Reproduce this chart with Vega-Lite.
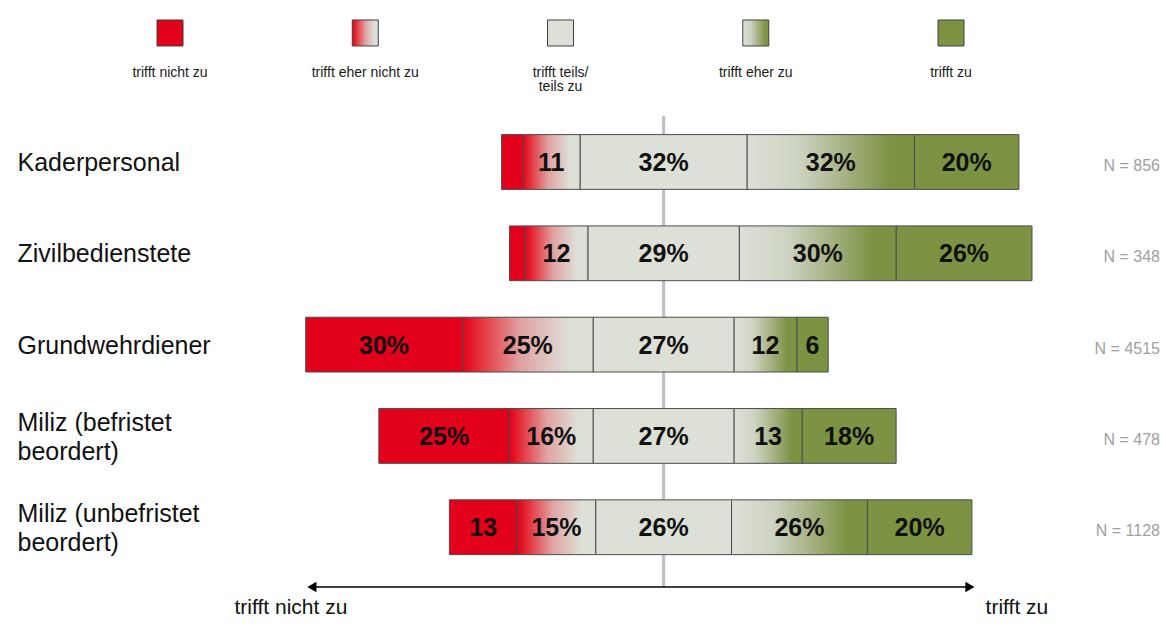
{
  "$schema": "https://vega.github.io/schema/vega-lite/v6.json",
  "padding": 0,
  "autosize": {"type": "pad"},
  "bounds": "flush",
  "spacing": 0,
  "background": "white",
  "config": {"view": {"stroke": null}, "font": "Liberation Sans"},
  "resolve": {"scale": {"x": "independent", "y": "independent", "color": "independent", "shape": "independent"}},
  "datasets": {
    "bars": [
      {"group": "Kaderpersonal", "cat": "trifft nicht zu", "order": 1, "value": 4, "label": ""},
      {"group": "Kaderpersonal", "cat": "trifft eher nicht zu", "order": 2, "value": 11, "label": "11"},
      {"group": "Kaderpersonal", "cat": "trifft teils/\nteils zu", "order": 3, "value": 32, "label": "32%"},
      {"group": "Kaderpersonal", "cat": "trifft eher zu", "order": 4, "value": 32, "label": "32%"},
      {"group": "Kaderpersonal", "cat": "trifft zu", "order": 5, "value": 20, "label": "20%"},
      {"group": "Zivilbedienstete", "cat": "trifft nicht zu", "order": 1, "value": 3, "label": ""},
      {"group": "Zivilbedienstete", "cat": "trifft eher nicht zu", "order": 2, "value": 12, "label": "12"},
      {"group": "Zivilbedienstete", "cat": "trifft teils/\nteils zu", "order": 3, "value": 29, "label": "29%"},
      {"group": "Zivilbedienstete", "cat": "trifft eher zu", "order": 4, "value": 30, "label": "30%"},
      {"group": "Zivilbedienstete", "cat": "trifft zu", "order": 5, "value": 26, "label": "26%"},
      {"group": "Grundwehrdiener", "cat": "trifft nicht zu", "order": 1, "value": 30, "label": "30%"},
      {"group": "Grundwehrdiener", "cat": "trifft eher nicht zu", "order": 2, "value": 25, "label": "25%"},
      {"group": "Grundwehrdiener", "cat": "trifft teils/\nteils zu", "order": 3, "value": 27, "label": "27%"},
      {"group": "Grundwehrdiener", "cat": "trifft eher zu", "order": 4, "value": 12, "label": "12"},
      {"group": "Grundwehrdiener", "cat": "trifft zu", "order": 5, "value": 6, "label": "6"},
      {"group": "Miliz (befristet\nbeordert)", "cat": "trifft nicht zu", "order": 1, "value": 25, "label": "25%"},
      {"group": "Miliz (befristet\nbeordert)", "cat": "trifft eher nicht zu", "order": 2, "value": 16, "label": "16%"},
      {"group": "Miliz (befristet\nbeordert)", "cat": "trifft teils/\nteils zu", "order": 3, "value": 27, "label": "27%"},
      {"group": "Miliz (befristet\nbeordert)", "cat": "trifft eher zu", "order": 4, "value": 13, "label": "13"},
      {"group": "Miliz (befristet\nbeordert)", "cat": "trifft zu", "order": 5, "value": 18, "label": "18%"},
      {"group": "Miliz (unbefristet\nbeordert)", "cat": "trifft nicht zu", "order": 1, "value": 13, "label": "13"},
      {"group": "Miliz (unbefristet\nbeordert)", "cat": "trifft eher nicht zu", "order": 2, "value": 15, "label": "15%"},
      {"group": "Miliz (unbefristet\nbeordert)", "cat": "trifft teils/\nteils zu", "order": 3, "value": 26, "label": "26%"},
      {"group": "Miliz (unbefristet\nbeordert)", "cat": "trifft eher zu", "order": 4, "value": 26, "label": "26%"},
      {"group": "Miliz (unbefristet\nbeordert)", "cat": "trifft zu", "order": 5, "value": 20, "label": "20%"}
    ],
    "counts": [
      {"group": "Kaderpersonal", "n": 856},
      {"group": "Zivilbedienstete", "n": 348},
      {"group": "Grundwehrdiener", "n": 4515},
      {"group": "Miliz (befristet\nbeordert)", "n": 478},
      {"group": "Miliz (unbefristet\nbeordert)", "n": 1128}
    ],
    "legend": [
      {"cat": "trifft nicht zu", "order": 1},
      {"cat": "trifft eher nicht zu", "order": 2},
      {"cat": "trifft teils/\nteils zu", "order": 3},
      {"cat": "trifft eher zu", "order": 4},
      {"cat": "trifft zu", "order": 5}
    ],
    "ends": [
      {"end": "trifft nicht zu"},
      {"end": "trifft zu"}
    ],
    "axisline": [
      {"from": "trifft nicht zu", "to": "trifft zu"}
    ]
  },
  "vconcat": [
    {
      "width": 1166,
      "height": 116,
      "data": {"name": "legend"},
      "layer": [
        {
          "transform": [{"filter": "datum.order == 1 || datum.order == 3 || datum.order == 5"}],
          "mark": {"type": "square", "size": 676, "stroke": "#404040", "strokeWidth": 1, "opacity": 1},
          "encoding": {
            "x": {"field": "cat", "type": "nominal", "sort": null, "axis": null,
                  "scale": {"type": "point", "domain": ["trifft nicht zu", "trifft eher nicht zu", "trifft teils/\nteils zu", "trifft eher zu", "trifft zu"], "padding": 0.986, "align": 0.4416}},
            "y": {"datum": "box", "type": "nominal", "axis": null,
                  "scale": {"type": "point", "domain": ["box", "label"], "padding": 0.95, "align": 0.434}},
            "color": {"field": "cat", "type": "nominal", "legend": null,
                      "scale": {"domain": ["trifft nicht zu", "trifft teils/\nteils zu", "trifft zu"], "range": ["#E2001A", "#DDE0D7", "#7C9343"]}}
          }
        },
        {
          "transform": [{"filter": "datum.order == 2"}],
          "mark": {"type": "square", "size": 676, "stroke": "#404040", "strokeWidth": 1, "opacity": 1,
                   "fill": {"gradient": "linear", "x1": 0, "x2": 1, "y1": 0, "y2": 0, "stops": [{"offset": 0, "color": "#E2001A"}, {"offset": 0.15, "color": "#E42A35"}, {"offset": 0.5, "color": "#E0A3A3"}, {"offset": 0.85, "color": "#DDE0D7"}, {"offset": 1, "color": "#DDE0D7"}]}},
          "encoding": {
            "x": {"field": "cat", "type": "nominal", "sort": null, "axis": null,
                  "scale": {"type": "point", "domain": ["trifft nicht zu", "trifft eher nicht zu", "trifft teils/\nteils zu", "trifft eher zu", "trifft zu"], "padding": 0.986, "align": 0.4416}},
            "y": {"datum": "box", "type": "nominal", "axis": null,
                  "scale": {"type": "point", "domain": ["box", "label"], "padding": 0.95, "align": 0.434}}
          }
        },
        {
          "transform": [{"filter": "datum.order == 4"}],
          "mark": {"type": "square", "size": 676, "stroke": "#404040", "strokeWidth": 1, "opacity": 1,
                   "fill": {"gradient": "linear", "x1": 0, "x2": 1, "y1": 0, "y2": 0, "stops": [{"offset": 0, "color": "#DDE0D7"}, {"offset": 0.3, "color": "#CDD3C2"}, {"offset": 0.6, "color": "#A3B07F"}, {"offset": 0.88, "color": "#7C9343"}, {"offset": 1, "color": "#7C9343"}]}},
          "encoding": {
            "x": {"field": "cat", "type": "nominal", "sort": null, "axis": null,
                  "scale": {"type": "point", "domain": ["trifft nicht zu", "trifft eher nicht zu", "trifft teils/\nteils zu", "trifft eher zu", "trifft zu"], "padding": 0.986, "align": 0.4416}},
            "y": {"datum": "box", "type": "nominal", "axis": null,
                  "scale": {"type": "point", "domain": ["box", "label"], "padding": 0.95, "align": 0.434}}
          }
        },
        {
          "mark": {"type": "text", "fontSize": 14, "color": "#1A1A1A", "align": "center", "baseline": "middle", "lineBreak": "\n", "lineHeight": 14},
          "encoding": {
            "x": {"field": "cat", "type": "nominal", "sort": null, "axis": null,
                  "scale": {"type": "point", "domain": ["trifft nicht zu", "trifft eher nicht zu", "trifft teils/\nteils zu", "trifft eher zu", "trifft zu"], "padding": 0.986, "align": 0.4416}},
            "y": {"datum": "label", "type": "nominal", "axis": null,
                  "scale": {"type": "point", "domain": ["box", "label"], "padding": 0.95, "align": 0.434}},
            "text": {"field": "cat"}
          }
        }
      ]
    },
    {
      "width": 1160,
      "height": 471,
      "layer": [
        {
          "data": {"values": [{"center": 0}]},
          "mark": {"type": "rule", "color": "#BFBFBF", "strokeWidth": 3},
          "encoding": {
            "x": {"field": "center", "type": "quantitative", "axis": null, "scale": {"domain": [-127, 95], "nice": false, "zero": false}}
          }
        },
        {
          "data": {"name": "bars"},
          "transform": [
            {"window": [{"op": "sum", "field": "value", "as": "cum"}], "groupby": ["group"], "sort": [{"field": "order"}], "frame": [null, 0]},
            {"calculate": "datum.order < 3 ? datum.value : (datum.order == 3 ? datum.value / 2 : 0)", "as": "leftpart"},
            {"joinaggregate": [{"op": "sum", "field": "leftpart", "as": "shift"}], "groupby": ["group"]},
            {"calculate": "datum.cum - datum.value - datum.shift", "as": "x0"},
            {"calculate": "datum.cum - datum.shift", "as": "x1"},
            {"calculate": "(datum.x0 + datum.x1) / 2", "as": "xm"}
          ],
          "layer": [
            {
              "transform": [{"filter": "datum.order == 1 || datum.order == 3 || datum.order == 5"}],
              "mark": {"type": "bar", "stroke": "#4D4D4D", "strokeWidth": 1},
              "encoding": {
                "x": {"field": "x0", "type": "quantitative", "axis": null, "scale": {"domain": [-127, 95], "nice": false, "zero": false}},
                "x2": {"field": "x1"},
                "y": {"field": "group", "type": "nominal", "sort": null,
                      "scale": {"domain": ["Kaderpersonal", "Zivilbedienstete", "Grundwehrdiener", "Miliz (befristet\nbeordert)", "Miliz (unbefristet\nbeordert)"], "paddingInner": 0.4, "paddingOuter": 0.279, "align": 0.365},
                      "axis": {"title": null, "domain": false, "ticks": false, "tickSize": 0, "labelAlign": "left", "labelPadding": -17, "labelFontSize": 25, "labelFont": "Liberation Sans", "labelColor": "#111111", "labelLimit": 400, "labelLineHeight": 29, "labelBaseline": "middle", "labelOffset": {"condition": {"test": "indexof(datum.label, '\\n') >= 0", "value": -13}, "value": 1}, "labelExpr": "split(datum.label, '\\n')"}},
                "color": {"field": "cat", "type": "nominal", "legend": null,
                          "scale": {"domain": ["trifft nicht zu", "trifft teils/\nteils zu", "trifft zu"], "range": ["#E2001A", "#DDE0D7", "#7C9343"]}}
              }
            },
            {
              "transform": [{"filter": "datum.order == 2"}],
              "mark": {"type": "bar", "stroke": "#4D4D4D", "strokeWidth": 1,
                       "fill": {"gradient": "linear", "x1": 0, "x2": 1, "y1": 0, "y2": 0, "stops": [{"offset": 0, "color": "#E2001A"}, {"offset": 0.12, "color": "#E42A35"}, {"offset": 0.45, "color": "#E0A3A3"}, {"offset": 0.82, "color": "#DDE0D7"}, {"offset": 1, "color": "#DDE0D7"}]}},
              "encoding": {
                "x": {"field": "x0", "type": "quantitative", "axis": null, "scale": {"domain": [-127, 95], "nice": false, "zero": false}},
                "x2": {"field": "x1"},
                "y": {"field": "group", "type": "nominal", "sort": null,
                      "scale": {"domain": ["Kaderpersonal", "Zivilbedienstete", "Grundwehrdiener", "Miliz (befristet\nbeordert)", "Miliz (unbefristet\nbeordert)"], "paddingInner": 0.4, "paddingOuter": 0.279, "align": 0.365},
                      "axis": {"title": null, "domain": false, "ticks": false, "tickSize": 0, "labelAlign": "left", "labelPadding": -17, "labelFontSize": 25, "labelFont": "Liberation Sans", "labelColor": "#111111", "labelLimit": 400, "labelLineHeight": 29, "labelBaseline": "middle", "labelOffset": {"condition": {"test": "indexof(datum.label, '\\n') >= 0", "value": -13}, "value": 1}, "labelExpr": "split(datum.label, '\\n')"}}
              }
            },
            {
              "transform": [{"filter": "datum.order == 4"}],
              "mark": {"type": "bar", "stroke": "#4D4D4D", "strokeWidth": 1,
                       "fill": {"gradient": "linear", "x1": 0, "x2": 1, "y1": 0, "y2": 0, "stops": [{"offset": 0, "color": "#DDE0D7"}, {"offset": 0.3, "color": "#CED4C3"}, {"offset": 0.6, "color": "#A3B07F"}, {"offset": 0.85, "color": "#7C9343"}, {"offset": 1, "color": "#7C9343"}]}},
              "encoding": {
                "x": {"field": "x0", "type": "quantitative", "axis": null, "scale": {"domain": [-127, 95], "nice": false, "zero": false}},
                "x2": {"field": "x1"},
                "y": {"field": "group", "type": "nominal", "sort": null,
                      "scale": {"domain": ["Kaderpersonal", "Zivilbedienstete", "Grundwehrdiener", "Miliz (befristet\nbeordert)", "Miliz (unbefristet\nbeordert)"], "paddingInner": 0.4, "paddingOuter": 0.279, "align": 0.365},
                      "axis": {"title": null, "domain": false, "ticks": false, "tickSize": 0, "labelAlign": "left", "labelPadding": -17, "labelFontSize": 25, "labelFont": "Liberation Sans", "labelColor": "#111111", "labelLimit": 400, "labelLineHeight": 29, "labelBaseline": "middle", "labelOffset": {"condition": {"test": "indexof(datum.label, '\\n') >= 0", "value": -13}, "value": 1}, "labelExpr": "split(datum.label, '\\n')"}}
              }
            },
            {
              "mark": {"type": "text", "fontSize": 25, "fontWeight": "bold", "color": "#111111", "align": "center", "baseline": "middle", "dy": 1},
              "encoding": {
                "x": {"field": "xm", "type": "quantitative", "axis": null, "scale": {"domain": [-127, 95], "nice": false, "zero": false}},
                "y": {"field": "group", "type": "nominal", "sort": null,
                      "scale": {"domain": ["Kaderpersonal", "Zivilbedienstete", "Grundwehrdiener", "Miliz (befristet\nbeordert)", "Miliz (unbefristet\nbeordert)"], "paddingInner": 0.4, "paddingOuter": 0.279, "align": 0.365},
                      "axis": {"title": null, "domain": false, "ticks": false, "tickSize": 0, "labelAlign": "left", "labelPadding": -17, "labelFontSize": 25, "labelFont": "Liberation Sans", "labelColor": "#111111", "labelLimit": 400, "labelLineHeight": 29, "labelBaseline": "middle", "labelOffset": {"condition": {"test": "indexof(datum.label, '\\n') >= 0", "value": -13}, "value": 1}, "labelExpr": "split(datum.label, '\\n')"}},
                "text": {"field": "label"}
              }
            }
          ]
        },
        {
          "data": {"name": "counts"},
          "transform": [{"calculate": "'N = ' + datum.n", "as": "ntext"}],
          "mark": {"type": "text", "fontSize": 16, "color": "#A0A0A0", "align": "right", "baseline": "middle", "dy": 4},
          "encoding": {
            "x": {"value": "width"},
            "y": {"field": "group", "type": "nominal", "sort": null,
                  "scale": {"domain": ["Kaderpersonal", "Zivilbedienstete", "Grundwehrdiener", "Miliz (befristet\nbeordert)", "Miliz (unbefristet\nbeordert)"], "paddingInner": 0.4, "paddingOuter": 0.279, "align": 0.365},
                  "axis": {"title": null, "domain": false, "ticks": false, "tickSize": 0, "labelAlign": "left", "labelPadding": -17, "labelFontSize": 25, "labelFont": "Liberation Sans", "labelColor": "#111111", "labelLimit": 400, "labelLineHeight": 29, "labelBaseline": "middle", "labelOffset": {"condition": {"test": "indexof(datum.label, '\\n') >= 0", "value": -13}, "value": 1}, "labelExpr": "split(datum.label, '\\n')"}},
            "text": {"field": "ntext"}
          }
        }
      ]
    },
    {
      "width": 1166,
      "height": 42,
      "layer": [
        {
          "data": {"name": "axisline"},
          "mark": {"type": "rule", "color": "#000000", "strokeWidth": 1.5},
          "encoding": {
            "x": {"field": "from", "type": "nominal", "axis": null, "scale": {"type": "point", "domain": ["trifft nicht zu", "trifft zu"], "padding": 0.386, "align": 0.614}},
            "x2": {"field": "to"},
            "y": {"datum": "arrow", "type": "nominal", "axis": null, "scale": {"type": "point", "domain": ["arrow", "text"], "padding": 0.5, "align": 0}}
          }
        },
        {
          "data": {"name": "ends"},
          "mark": {"type": "point", "filled": true, "size": 110, "color": "#000000", "opacity": 1},
          "encoding": {
            "x": {"field": "end", "type": "nominal", "axis": null, "scale": {"type": "point", "domain": ["trifft nicht zu", "trifft zu"], "padding": 0.386, "align": 0.614}},
            "y": {"datum": "arrow", "type": "nominal", "axis": null, "scale": {"type": "point", "domain": ["arrow", "text"], "padding": 0.5, "align": 0}},
            "shape": {"field": "end", "type": "nominal", "legend": null, "scale": {"domain": ["trifft nicht zu", "trifft zu"], "range": ["triangle-left", "triangle-right"]}}
          }
        },
        {
          "data": {"name": "ends"},
          "transform": [{"filter": "datum.end == 'trifft nicht zu'"}],
          "mark": {"type": "text", "fontSize": 21, "color": "#111111", "align": "center", "baseline": "middle", "dx": -21},
          "encoding": {
            "x": {"field": "end", "type": "nominal", "axis": null, "scale": {"type": "point", "domain": ["trifft nicht zu", "trifft zu"], "padding": 0.386, "align": 0.614}},
            "y": {"datum": "text", "type": "nominal", "axis": null, "scale": {"type": "point", "domain": ["arrow", "text"], "padding": 0.5, "align": 0}},
            "text": {"field": "end"}
          }
        },
        {
          "data": {"name": "ends"},
          "transform": [{"filter": "datum.end == 'trifft zu'"}],
          "mark": {"type": "text", "fontSize": 21, "color": "#111111", "align": "center", "baseline": "middle", "dx": 47},
          "encoding": {
            "x": {"field": "end", "type": "nominal", "axis": null, "scale": {"type": "point", "domain": ["trifft nicht zu", "trifft zu"], "padding": 0.386, "align": 0.614}},
            "y": {"datum": "text", "type": "nominal", "axis": null, "scale": {"type": "point", "domain": ["arrow", "text"], "padding": 0.5, "align": 0}},
            "text": {"field": "end"}
          }
        }
      ]
    }
  ]
}
